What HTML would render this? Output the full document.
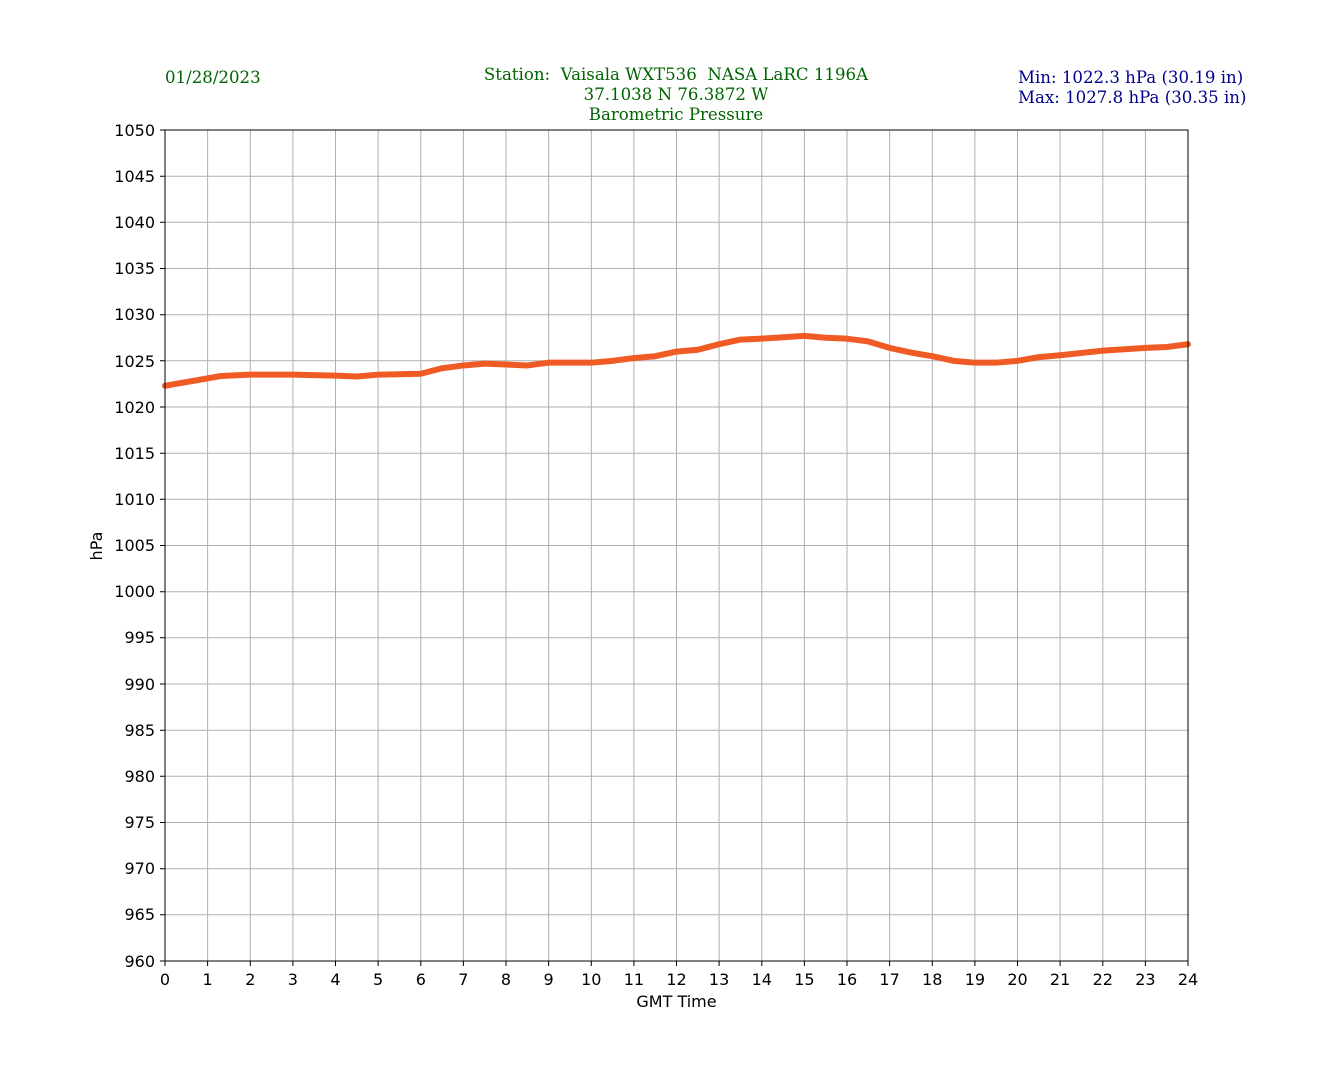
<!DOCTYPE html>
<html><head><style>
body{margin:0;background:#fff;}
svg text{font-family:"DejaVu Sans","Liberation Sans",sans-serif;font-size:16px;fill:#000;}
.t{font-family:"DejaVu Serif","Liberation Serif",serif;font-size:16.6px;white-space:pre;}
</style></head><body>
<svg width="1320" height="1080" xmlns="http://www.w3.org/2000/svg" xml:space="preserve">
<rect width="1320" height="1080" fill="#fff"/>
<text class="t" x="165" y="83" style="fill:#006400">01/28/2023</text>
<text class="t" x="676" y="80" text-anchor="middle" style="fill:#006400">Station:  Vaisala WXT536  NASA LaRC 1196A</text>
<text class="t" x="676" y="100" text-anchor="middle" style="fill:#006400">37.1038 N 76.3872 W</text>
<text class="t" x="676" y="120" text-anchor="middle" style="fill:#006400">Barometric Pressure</text>
<text class="t" x="1018" y="83" style="fill:#00008b">Min: 1022.3 hPa (30.19 in)</text>
<text class="t" x="1018" y="103" style="fill:#00008b">Max: 1027.8 hPa (30.35 in)</text>
<g stroke="#b0b0b0" stroke-width="1">
<path d="M165 176.2H1188M165 222.3H1188M165 268.5H1188M165 314.7H1188M165 360.8H1188M165 407H1188M165 453.2H1188M165 499.3H1188M165 545.5H1188M165 591.7H1188M165 637.8H1188M165 684H1188M165 730.2H1188M165 776.3H1188M165 822.5H1188M165 868.7H1188M165 914.8H1188"/>
<path d="M207.6 130V961M250.3 130V961M292.9 130V961M335.5 130V961M378.1 130V961M420.8 130V961M463.4 130V961M506 130V961M548.6 130V961M591.3 130V961M633.9 130V961M676.5 130V961M719.1 130V961M761.8 130V961M804.4 130V961M847 130V961M889.6 130V961M932.3 130V961M974.9 130V961M1017.5 130V961M1060.1 130V961M1102.8 130V961M1145.4 130V961"/>
</g>
<g transform="translate(165,130) scale(42.625,9.2333)">
<polyline fill="none" stroke="#f05a24" stroke-width="6" stroke-linejoin="round" stroke-linecap="round" vector-effect="non-scaling-stroke"
points="0,27.7 0.5,27.3 1,26.9 1.3,26.65 1.5,26.6 2,26.5 3,26.5 4,26.6 4.5,26.7 5,26.5 6,26.4 6.5,25.8 7,25.5 7.5,25.3 8,25.4 8.5,25.5 9,25.2 10,25.2 10.5,25.0 11,24.7 11.5,24.5 12,24.0 12.5,23.8 13,23.2 13.5,22.7 14,22.6 15,22.3 15.5,22.5 16,22.6 16.5,22.9 17,23.6 17.5,24.1 18,24.5 18.5,25.0 19,25.2 19.5,25.2 20,25.0 20.5,24.6 21,24.4 22,23.9 23,23.6 23.5,23.5 24,23.2"/>
</g>
<rect x="165" y="130" width="1023" height="831" fill="none" stroke="#000" stroke-width="1"/>
<g stroke="#000">
<path d="M160 130H165M160 176.2H165M160 222.3H165M160 268.5H165M160 314.7H165M160 360.8H165M160 407H165M160 453.2H165M160 499.3H165M160 545.5H165M160 591.7H165M160 637.8H165M160 684H165M160 730.2H165M160 776.3H165M160 822.5H165M160 868.7H165M160 914.8H165M160 961H165"/>
<path d="M165 961V966M207.6 961V966M250.3 961V966M292.9 961V966M335.5 961V966M378.1 961V966M420.8 961V966M463.4 961V966M506 961V966M548.6 961V966M591.3 961V966M633.9 961V966M676.5 961V966M719.1 961V966M761.8 961V966M804.4 961V966M847 961V966M889.6 961V966M932.3 961V966M974.9 961V966M1017.5 961V966M1060.1 961V966M1102.8 961V966M1145.4 961V966M1188 961V966"/>
</g>
<g text-anchor="end">
<text x="155" y="136">1050</text><text x="155" y="182">1045</text><text x="155" y="228">1040</text><text x="155" y="274">1035</text><text x="155" y="320">1030</text><text x="155" y="367">1025</text><text x="155" y="413">1020</text><text x="155" y="459">1015</text><text x="155" y="505">1010</text><text x="155" y="551">1005</text><text x="155" y="597">1000</text><text x="155" y="643">995</text><text x="155" y="690">990</text><text x="155" y="736">985</text><text x="155" y="782">980</text><text x="155" y="828">975</text><text x="155" y="874">970</text><text x="155" y="920">965</text><text x="155" y="967">960</text>
</g>
<g text-anchor="middle">
<text x="165" y="985">0</text><text x="207.6" y="985">1</text><text x="250.3" y="985">2</text><text x="292.9" y="985">3</text><text x="335.5" y="985">4</text><text x="378.1" y="985">5</text><text x="420.8" y="985">6</text><text x="463.4" y="985">7</text><text x="506" y="985">8</text><text x="548.6" y="985">9</text><text x="591.3" y="985">10</text><text x="633.9" y="985">11</text><text x="676.5" y="985">12</text><text x="719.1" y="985">13</text><text x="761.8" y="985">14</text><text x="804.4" y="985">15</text><text x="847" y="985">16</text><text x="889.6" y="985">17</text><text x="932.3" y="985">18</text><text x="974.9" y="985">19</text><text x="1017.5" y="985">20</text><text x="1060.1" y="985">21</text><text x="1102.8" y="985">22</text><text x="1145.4" y="985">23</text><text x="1188" y="985">24</text>
<text x="676.5" y="1007">GMT Time</text>
<text x="0" y="0" transform="translate(102,546) rotate(-90)">hPa</text>
</g>
</svg>
</body></html>
